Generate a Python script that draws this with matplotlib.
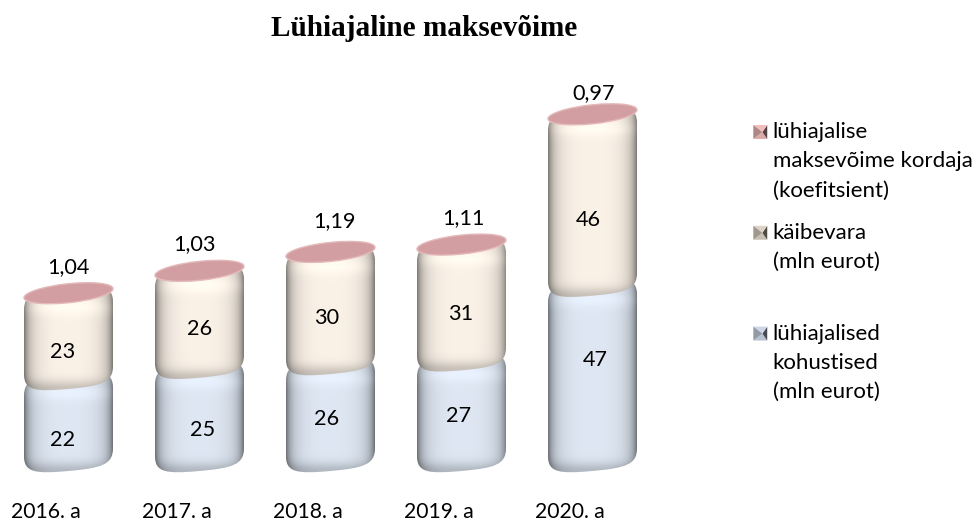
import numpy as np
import matplotlib
matplotlib.use("Agg")
import matplotlib.pyplot as plt
from matplotlib.path import Path
from matplotlib.patches import PathPatch, Polygon, Patch
from matplotlib.legend_handler import HandlerBase

years = ["2016. a", "2017. a", "2018. a", "2019. a", "2020. a"]
kohustised = [22, 25, 26, 27, 47]
kaibevara = [23, 26, 30, 31, 46]
kordaja = [1.04, 1.03, 1.19, 1.11, 0.97]
kordaja_labels = ["1,04", "1,03", "1,19", "1,11", "0,97"]
legend_labels = ["lühiajalise\nmaksevõime kordaja\n(koefitsient)",
                 "käibevara\n(mln eurot)\n",
                 "lühiajalised\nkohustised\n(mln eurot)"]
title = "Lühiajaline maksevõime"

# hand-placed label offsets in the reference, pixels from the segment's centre
OFF_K = [(-6, -18), (3, -14), (-4, -4), (-3, -3), (3, 15)]
OFF_V = [(-6, -14), (0, -8), (-4, -8), (-1, -10), (-4, -18)]
OFF_C = [(0, 24), (-5, 25), (4, 29), (2, 24), (1, 19)]

W, H = 976, 521
fig = plt.figure(figsize=(W / 100, H / 100), dpi=100, facecolor="white")
ax_l, ax_r, ax_top, ax_bot = 3, 658, 90, 463
ax = fig.add_axes([ax_l / W, 1 - ax_bot / H, (ax_r - ax_l) / W, (ax_bot - ax_top) / H])
ax.set_xlim(-0.5, 4.5)
ax.set_ylim(0, 100)
PX = (ax_r - ax_l) / 5
PY = (ax_bot - ax_top) / 100
FONT = "Lato"


def outline(cx, w, y0, y1):
    e, c, t = 8.0, 11.0, 4.0
    b, u = 0.0, (y1 - y0) * PY
    pts = [(-w, b + c), (-w, b - e * 0.7), (-w * 0.75, b - e), (0, b - e),
           (w * 0.75, b - e), (w, b - e * 0.7), (w, b + c),
           (w, u - c), (w, u + e * 0.7), (w * 0.75, u + e), (0, u + e),
           (-w * 0.75, u + e), (-w, u + e * 0.7), (-w, u - c), (-w, b + c)]
    codes = [Path.MOVETO] + [Path.CURVE4] * 6 + [Path.LINETO] + [Path.CURVE4] * 6 + [Path.CLOSEPOLY]
    v = np.array([[cx + x / PX, y0 + (y + t * x / w) / PY] for x, y in pts])
    return Path(v, codes)


def shade(base, height_px):
    ny = int(max(height_px + 40, 40))
    u = np.linspace(-1, 1, 120)[None, :]
    d = np.linspace(-22, height_px + 18, ny)[:, None]
    side = 1 - 0.30 * np.abs(u) ** 10 - 0.20 * np.abs(u) ** 3
    band = 0.05 * np.exp(-((d - 12) / 8) ** 2)
    lip = -0.20 * np.exp(-((d - (height_px + 9)) / 9) ** 2)
    s = side + band + lip
    return np.clip(np.array(base)[None, None, :] * s[:, :, None], 0, 1)


def draw_segment(rect, base, z):
    x0, w = rect.get_x(), rect.get_width()
    cx = x0 + w / 2
    y0, y1 = rect.get_y(), rect.get_y() + rect.get_height()
    path = outline(cx, w * PX / 2, y0, y1)
    hpx = (y1 - y0) * PY
    im = ax.imshow(shade(base, hpx), extent=(x0, x0 + w, y0 - 18 / PY, y1 + 22 / PY),
                   origin="upper", aspect="auto", zorder=z, interpolation="bilinear")
    im.set_clip_box(fig.bbox)
    im.set_clip_path(PathPatch(path, transform=ax.transData))


x = np.arange(len(years))
BAR_W = 89 / PX
tot = np.array(kohustised) + np.array(kaibevara)
bars_k = ax.bar(x, kohustised, BAR_W, alpha=0)
bars_v = ax.bar(x, kaibevara, BAR_W, bottom=kohustised, alpha=0)
bars_c = ax.bar(x, kordaja, BAR_W, bottom=tot, alpha=0)

BLUE = (0.87, 0.905, 0.95)
BEIGE = (0.98, 0.945, 0.905)
for r in bars_k:
    draw_segment(r, BLUE, 3)
for r in bars_v:
    draw_segment(r, BEIGE, 4)

for r in bars_c:
    cx = r.get_x() + r.get_width() / 2
    yc = r.get_y() + r.get_height() / 2
    hw = r.get_width() * PX / 2
    c = Path.unit_circle()
    v = c.vertices
    v2 = np.column_stack([cx + v[:, 0] * hw / PX,
                          yc + (v[:, 1] * 9.5 + v[:, 0] * 4.5) / PY])
    ax.add_patch(PathPatch(Path(v2, c.codes), fc="#d39ea2", ec="#e3b9b9", lw=1.0,
                           zorder=6, clip_on=False))

TS = 15.6
for i in x:
    for vals, base, off in ((kohustised, 0, OFF_K), (kaibevara, kohustised[i], OFF_V)):
        ax.annotate(str(vals[i]), xy=(i, base + vals[i] / 2), xytext=off[i],
                    textcoords="offset pixels", ha="center", va="center",
                    family=FONT, fontsize=TS, zorder=8)
    ax.annotate(kordaja_labels[i], xy=(i, tot[i] + kordaja[i]), xytext=OFF_C[i],
                textcoords="offset pixels", ha="center", va="center",
                family=FONT, fontsize=TS, zorder=8, annotation_clip=False)

ax.set_xticks(x - 22.5 / PX, years, family=FONT, fontsize=15.2)
ax.tick_params(axis="x", length=0, pad=28.2)
ax.set_yticks([])
for s in ax.spines.values():
    s.set_visible(False)
ax.patch.set_visible(False)

fig.text(424.5 / W, 1 - 29 / H, title, ha="center", va="center",
         family="Liberation Serif", weight="bold", fontsize=21.1)

LINE_PT = 29.5 * 0.72


class PyramidHandler(HandlerBase):
    def create_artists(self, legend, orig, xd, yd, width, height, fontsize, trans):
        base = np.array(orig.get_facecolor()[:3])
        s = 10.0
        lines = orig.get_label().count("\n")
        x0 = width - s
        y0 = lines / 2 * LINE_PT + (height - s) / 2 - yd
        cx, cy = x0 + s / 2, y0 + s / 2
        A, B, C, D = (x0, y0), (x0 + s, y0), (x0 + s, y0 + s), (x0, y0 + s)
        O = (cx + s * 0.15, cy)
        faces = [((A, B, O), 0.9), ((B, C, O), 0.35), ((C, D, O), 1.0), ((D, A, O), 0.72)]
        return [Polygon(p, closed=True, fc=tuple(np.clip(base * f, 0, 1)), ec="none",
                        transform=trans) for p, f in faces]


handles = [Patch(fc=col, label=lb) for col, lb in
           zip(["#f2bcbc", "#dcd3c6", "#ccd6e6"], legend_labels)]
leg = fig.legend(handles=handles, labels=legend_labels, loc="upper left",
                 bbox_to_anchor=(753 / W, 1 - 122 / H), bbox_transform=fig.transFigure,
                 frameon=False, prop={"family": FONT, "size": 16.0},
                 handler_map={Patch: PyramidHandler()}, handlelength=0.64, handletextpad=0.25,
                 labelspacing=1.0, borderpad=0, borderaxespad=0)
for t in leg.get_texts():
    t.set_linespacing(1.58)

fig.savefig("out.png", dpi=100, facecolor="white")
